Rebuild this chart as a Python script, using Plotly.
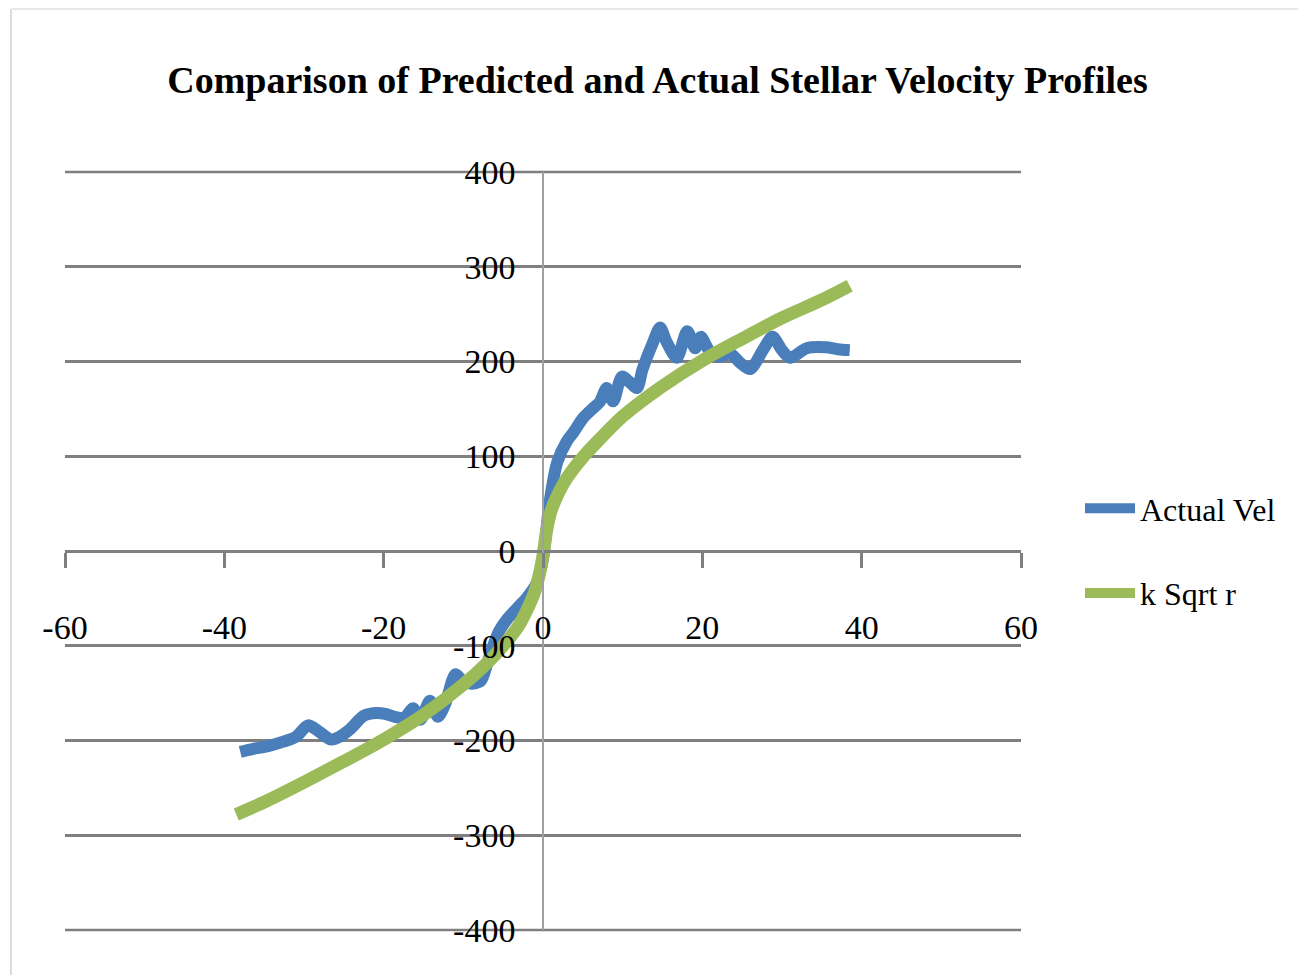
import plotly.graph_objects as go

# Actual velocity data
actual_x = [-38.0, -36.5, -34.5, -32.5, -31.0, -29.5, -28.2, -26.6, -25.5, -24.2,
            -22.5, -21.0, -19.8, -18.6, -17.4, -16.3, -15.4, -14.2, -13.2, -12.3,
            -11.0, -10.2, -9.0, -7.8, -6.9, -5.6, -4.5, -3.2, -2.0, -0.8,
            0.0, 0.8, 1.8, 3.0, 3.8, 5.0, 6.2, 7.1, 8.0, 8.8,
            9.9, 10.9, 11.8, 12.5, 13.8, 14.7, 15.5, 16.8, 18.1, 19.1,
            19.8, 20.9, 22.2, 23.4, 24.7, 26.0, 27.6, 28.8, 30.0, 31.0,
            33.1, 35.5, 37.0, 38.5]
actual_y = [-212, -209, -206, -201, -196, -184, -190, -199, -196, -188,
            -174, -171, -172, -175, -176, -166, -178, -158, -175, -162,
            -130, -136, -140, -137, -116, -86, -72, -60, -49, -34,
            -8, 50, 94, 116, 125, 140, 150, 157, 172, 158,
            184, 178, 172, 192, 220, 236, 221, 204, 232, 214,
            226, 211, 205, 209, 199, 192, 212, 226, 212, 204,
            214, 215, 213, 212]

# k Sqrt r model
model_x = [-38.5, -35, -30, -25, -20, -15, -10, -7, -5, -3, -2, -1, -0.5, 0,
           0.5, 1, 2, 3, 5, 7, 10, 15, 20, 25, 30, 35, 38.5]
model_y = [-278, -265, -244, -222, -199, -173, -141, -118, -100, -78, -62, -42, -26, -5,
           24, 42, 62, 77, 99, 117, 142, 174, 201, 224, 246, 265, 280]

x_ticks = [-60, -40, -20, 0, 20, 40, 60]
y_ticks = [-400, -300, -200, -100, 0, 100, 200, 300, 400]

BLUE = "#4A7EBB"
GREEN = "#9BBB59"
GRID = "#7F7F7F"
FONT = "Liberation Serif"

# page body has an 8px margin; compensate so the picture lands where the reference is
OFF = 8
W, H = 1306 - OFF, 975 - OFF
L, T = 65 - OFF, 172 - OFF
PW, PH = 956, 758
Y_RANGE = [y_ticks[0], y_ticks[-1]]

fig = go.Figure()
fig.add_trace(go.Scatter(x=actual_x, y=actual_y, mode="lines", name="Actual Vel",
                         line=dict(color=BLUE, width=12, shape="spline", smoothing=0.8),
                         legendgroup="a"))
fig.add_trace(go.Scatter(x=model_x, y=model_y, mode="lines", name="k Sqrt r",
                         line=dict(color=GREEN, width=13, shape="spline", smoothing=0.8),
                         legendgroup="b"))

def px_x(p):
    return (p - OFF - L) / PW

def px_y(p):
    return (T + PH - (p - OFF)) / PH

shapes = []
# gridlines at the range ends (plotly omits them at the plot edges); unclipped paper refs
for yv in (y_ticks[0], y_ticks[-1]):
    yp = (yv - Y_RANGE[0]) / (Y_RANGE[1] - Y_RANGE[0])
    shapes.append(dict(type="line", xref="paper", yref="paper", x0=0, x1=1, y0=yp, y1=yp,
                       line=dict(color=GRID, width=2.5), layer="below"))
# faint frame of the original slide
shapes.append(dict(type="line", xref="paper", yref="paper",
                   x0=px_x(11), x1=px_x(11), y0=px_y(9), y1=px_y(990),
                   line=dict(color="#D0D0D0", width=1.5)))
shapes.append(dict(type="line", xref="paper", yref="paper",
                   x0=px_x(11), x1=px_x(1320), y0=px_y(9), y1=px_y(9),
                   line=dict(color="#E0E0E0", width=1.5)))

fig.update_layout(
    width=W, height=H,
    paper_bgcolor="white", plot_bgcolor="white",
    margin=dict(l=L, r=W - L - PW, t=T, b=H - T - PH),
    title=dict(text="<b>Comparison of Predicted and Actual Stellar Velocity Profiles</b>",
               x=((165 + 1150) / 2 - OFF) / W, xanchor="center", y=1 - (80 - OFF) / H, yanchor="middle",
               font=dict(family=FONT, size=38, color="black")),
    xaxis=dict(range=[-60, 60], tickvals=x_ticks, ticktext=[str(v) for v in x_ticks],
               showgrid=False, zeroline=False, showline=True, linecolor=GRID, linewidth=2.5,
               ticks="outside", ticklen=15, tickcolor=GRID, tickwidth=2.5,
               anchor="free", position=0.5, ticklabelstandoff=30,
               tickfont=dict(family=FONT, size=34, color="black")),
    yaxis=dict(range=Y_RANGE, tickvals=y_ticks, ticktext=[str(v) for v in y_ticks],
               showgrid=True, gridcolor=GRID, gridwidth=2.5, zeroline=False,
               showline=True, linecolor="#A0A0A0", linewidth=1.5, ticks="",
               anchor="free", position=0.5, ticklabelstandoff=20,
               tickfont=dict(family=FONT, size=34, color="black")),
    legend=dict(x=px_x(1080), xanchor="left", y=0.5, yanchor="middle",
                font=dict(family=FONT, size=32, color="black"),
                traceorder="grouped", tracegroupgap=40, itemwidth=50,
                bgcolor="rgba(0,0,0,0)"),
    shapes=shapes,
)

fig.write_html("out.html")
